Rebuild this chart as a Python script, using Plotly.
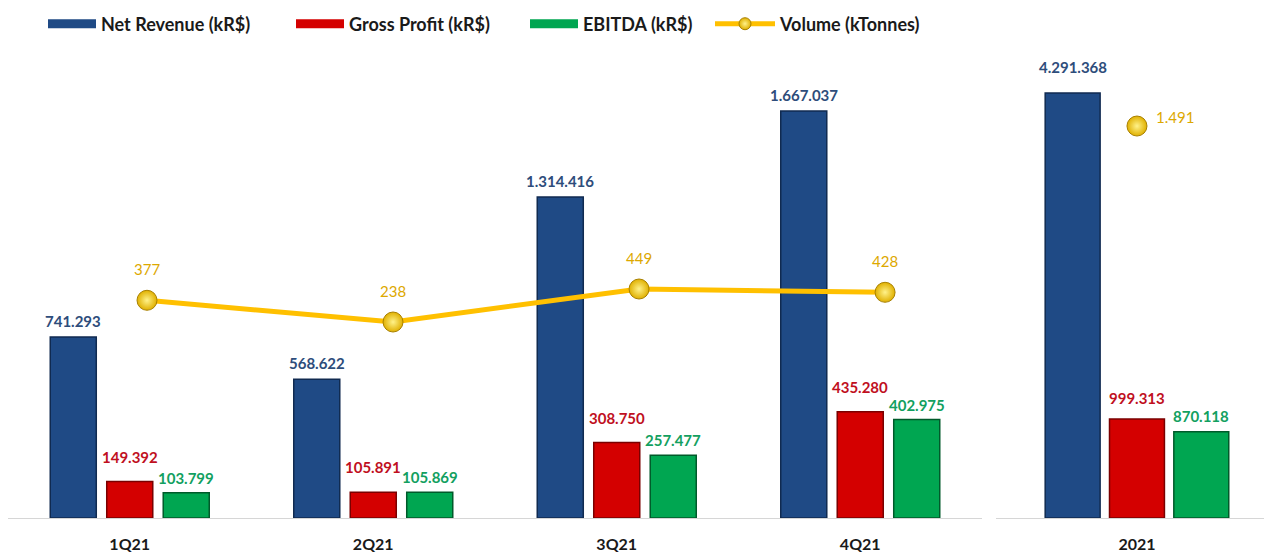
"""Receita, lucro bruto, EBITDA e volume — trimestres de 2021 e total do ano."""

import plotly.graph_objects as go

# --- dados ---
QUARTERS = ["1Q21", "2Q21", "3Q21", "4Q21"]
YEAR = ["2021"]

NET_REVENUE_Q = [741293, 568622, 1314416, 1667037]
GROSS_PROFIT_Q = [149392, 105891, 308750, 435280]
EBITDA_Q = [103799, 105869, 257477, 402975]
VOLUME_Q = [377, 238, 449, 428]

NET_REVENUE_Y = [4291368]
GROSS_PROFIT_Y = [999313]
EBITDA_Y = [870118]
VOLUME_Y = [1491]

W = 1264
H = 552

# (nome, cor da barra, cor da borda, cor do rótulo)
_SERIES = [
    ("Net Revenue (kR$)", "#1F4A85", "#102a50", "#2E4D7B"),
    ("Gross Profit (kR$)", "#D40000", "#7a0000", "#C0101E"),
    ("EBITDA (kR$)", "#00A651", "#005a2a", "#12A060"),
]
VOL_NAME = "Volume (kTonnes)"
VOL_COLOR = "#FFC000"
VOL_LABEL = "#DDA800"
FONT = "Lato"

# posição (px) de cada item da legenda, na ordem: barras e volume
_LEGEND_X = [43, 291, 525, 710]


def fmt(v):
    return f"{v:,}".replace(",", ".")


fig = go.Figure()

# painel esquerdo (trimestres) e direito (ano)
panels = [
    ("x", "y", QUARTERS, [NET_REVENUE_Q, GROSS_PROFIT_Q, EBITDA_Q], 0.189, 0.232, [16, 25, 15]),
    ("x3", "y3", YEAR, [NET_REVENUE_Y, GROSS_PROFIT_Y, EBITDA_Y], 0.205, 0.240, [26, 21, 16]),
]

annotations = []
for xa, ya, cats, values, width, slot, shifts in panels:
    for j, ((name, color, edge, lab), vals) in enumerate(zip(_SERIES, values)):
        center = (j - 1) * slot
        fig.add_trace(
            go.Bar(
                x=cats,
                y=vals,
                width=width,
                offset=center - width / 2,
                marker={"color": color, "line": {"color": edge, "width": 1.5}},
                name=name,
                showlegend=False,
                xaxis=xa,
                yaxis=ya,
                hovertemplate="%{x}<br>" + name + ": %{y:,}<extra></extra>",
            )
        )
        for i, v in enumerate(vals):
            annotations.append(dict(
                x=i + center, y=v, xref=xa, yref=ya,
                text=fmt(v), showarrow=False, yanchor="middle", yshift=shifts[j],
                font={"family": FONT, "size": 15, "color": lab, "weight": "bold"},
            ))

# --- volume ---
vol_marker = {
    "size": 20, "color": "#E0B000",
    "gradient": {"type": "radial", "color": "#FFF28A"},
    "line": {"color": "#A88000", "width": 1},
}
fig.add_trace(
    go.Scatter(
        x=QUARTERS, y=VOLUME_Q, mode="lines+markers", name=VOL_NAME,
        line={"color": VOL_COLOR, "width": 5},
        marker=vol_marker, showlegend=False,
        xaxis="x2", yaxis="y2",
        hovertemplate="%{x}<br>Volume: %{y}<extra></extra>",
    )
)
fig.add_trace(
    go.Scatter(
        x=YEAR, y=VOLUME_Y, mode="markers", name=VOL_NAME,
        marker=vol_marker, showlegend=False,
        xaxis="x3", yaxis="y4",
        hovertemplate="%{x}<br>Volume: %{y}<extra></extra>",
    )
)
for i, v in enumerate(VOLUME_Q):
    annotations.append(dict(
        x=i, y=v, xref="x2", yref="y2", text=fmt(v), showarrow=False,
        yshift=31, font={"family": FONT, "size": 15, "color": VOL_LABEL},
    ))
for i, v in enumerate(VOLUME_Y):
    annotations.append(dict(
        x=i, y=v, xref="x3", yref="y4", text=fmt(v), showarrow=False,
        xshift=38, yshift=9, font={"family": FONT, "size": 15, "color": VOL_LABEL},
    ))

# --- legenda: um item por legenda, para reproduzir o espaçamento ---
legend_names = ["legend", "legend2", "legend3", "legend4"]
for k, (name, color, edge, lab) in enumerate(_SERIES):
    fig.add_trace(
        go.Scatter(
            x=[None], y=[None], mode="lines", name=name,
            line={"color": color, "width": 9},
            legend=legend_names[k], xaxis="x", yaxis="y", hoverinfo="skip",
        )
    )
fig.add_trace(
    go.Scatter(
        x=[None], y=[None], mode="lines+markers", name=VOL_NAME,
        line={"color": VOL_COLOR, "width": 5},
        marker={**vol_marker, "size": 12},
        legend=legend_names[3], xaxis="x", yaxis="y", hoverinfo="skip",
    )
)

VOL_RANGE = [-1015, 1977]
tickfont = {"family": FONT, "size": 16, "color": "#1a1a1a", "weight": "bold"}
base_x = dict(
    type="category", showline=True, linecolor="#D6D6D6", linewidth=1,
    showgrid=False, zeroline=False, ticks="", tickfont=tickfont,
    ticklabelstandoff=12, fixedrange=True,
)
hidden_y = dict(visible=False, showgrid=False, zeroline=False, fixedrange=True)

legend_font = {"family": FONT, "size": 18, "color": "#1a1a1a", "weight": "bold"}
legends = {}
for k, lname in enumerate(legend_names):
    legends[lname] = {
        "orientation": "h", "x": _LEGEND_X[k] / W, "xanchor": "left",
        "y": 0.99, "yref": "container", "yanchor": "top",
        "itemwidth": 60 if k == 3 else 48, "font": legend_font,
        "bgcolor": "rgba(0,0,0,0)",
    }

fig.update_layout(
    width=W,
    height=H,
    paper_bgcolor="white",
    plot_bgcolor="white",
    margin={"l": 0, "r": 0, "t": 50, "b": 34},
    font={"family": FONT, "color": "#1a1a1a"},
    xaxis={**base_x, "domain": [8 / W, 982 / W], "range": [-0.5, 3.5], "anchor": "y"},
    xaxis2={**base_x, "overlaying": "x", "range": [-0.565, 3.394], "visible": False,
            "anchor": "y2"},
    xaxis3={**base_x, "domain": [996 / W, 1], "range": [-0.526, 0.474], "anchor": "y3"},
    yaxis={**hidden_y, "range": [0, 1916800], "anchor": "x"},
    yaxis2={**hidden_y, "overlaying": "y", "range": VOL_RANGE, "anchor": "x2"},
    yaxis3={**hidden_y, "range": [0, 4725500], "anchor": "x3"},
    yaxis4={**hidden_y, "overlaying": "y3", "range": VOL_RANGE, "anchor": "x3"},
    annotations=annotations,
    showlegend=True,
    **legends,
)

fig.write_html(
    "out.html",
    config={"displayModeBar": False},
    post_script="document.body.style.margin='0';",
)
